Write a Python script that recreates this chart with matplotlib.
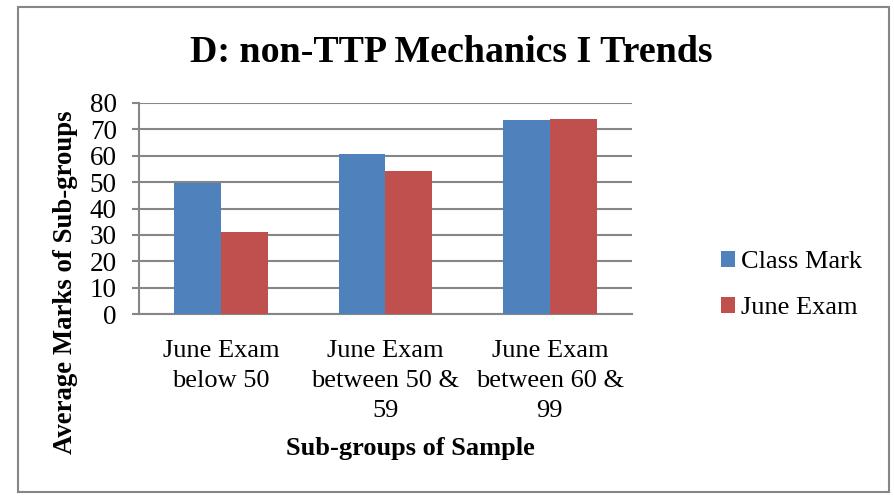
import matplotlib
matplotlib.use("Agg")
import matplotlib.pyplot as plt
import numpy as np
from matplotlib.patches import Rectangle

categories = ["June Exam\nbelow 50", "June Exam\nbetween 50 &\n59", "June Exam\nbetween 60 &\n99"]
class_mark = [49.6, 60.7, 73.6]
june_exam = [31.1, 54.1, 73.8]
yticks = [0, 10, 20, 30, 40, 50, 60, 70, 80]

plt.rcParams['font.family'] = ['Liberation Serif', 'DejaVu Serif']

fig = plt.figure(figsize=(8.95, 4.96), dpi=100)
ax = fig.add_axes([139/895, 1-314/496, (632-139)/895, (314-103)/496])

blue = "#4F81BD"
red = "#C0504D"
grid = "#868686"

x = np.arange(len(categories))
w = 1/3.5
ax.bar(x - w/2, class_mark, w, color=blue, label="Class Mark", zorder=3)
ax.bar(x + w/2, june_exam, w, color=red, label="June Exam", zorder=3)

ax.set_xlim(-0.5, 2.5)
ax.set_ylim(0, 80)
ax.set_yticks(yticks)
ax.set_yticklabels([str(v) for v in yticks], fontsize=19.5)
ax.set_xticks(x)
ax.set_xticklabels(categories, fontsize=19, linespacing=1.46, va='top')
ax.tick_params(axis='x', length=0, pad=19)
ax.tick_params(axis='y', length=5, width=1.5, color=grid, pad=11)
ax.yaxis.grid(True, color=grid, linewidth=1.5, zorder=0)
ax.set_axisbelow(True)
for s in ['top', 'right']:
    ax.spines[s].set_visible(False)
for s in ['left', 'bottom']:
    ax.spines[s].set_color(grid)
    ax.spines[s].set_linewidth(1.5)

fig.text(410/895, 1-449/496, "Sub-groups of Sample", fontsize=19, fontweight='bold',
         ha='center', va='center')
fig.text(66/895, 1-282/496, "Average Marks of Sub-groups", rotation=90, fontsize=19.3,
         fontweight='bold', ha='center', va='center')
fig.text(451/895, 1-52/496, "D: non-TTP Mechanics I Trends", fontsize=27.3,
         fontweight='bold', ha='center', va='center')

leg = fig.legend(loc='center left', bbox_to_anchor=(697/895, 1-285/496), frameon=False,
                 fontsize=19, handlelength=0.55, handleheight=0.55, handletextpad=0.2,
                 labelspacing=0.9)

fig.patches.append(Rectangle((18/895, 1-492/496), (889-18)/895, (492-7)/496,
                             transform=fig.transFigure, fill=False, edgecolor=grid,
                             linewidth=1.5))

fig.savefig("out.png", dpi=100)
